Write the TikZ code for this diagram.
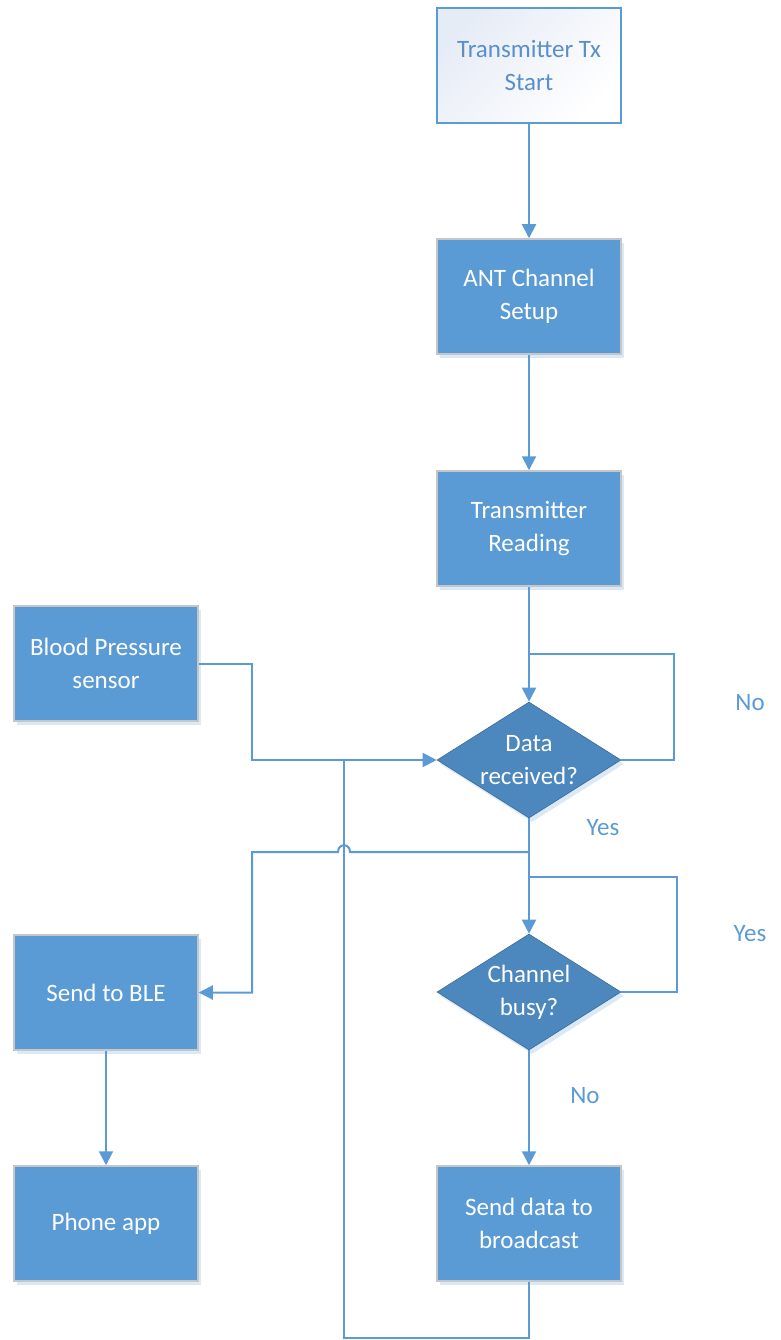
\documentclass[tikz,border=0pt]{standalone}
\usepackage{fontspec}
\setmainfont{Carlito}
\usetikzlibrary{shapes.geometric,arrows.meta,shadows}
\definecolor{lineblue}{HTML}{5B9BD5}
\definecolor{boxblue}{HTML}{5B9BD5}
\definecolor{diablue}{HTML}{4C87BD}
\definecolor{startborder}{HTML}{5B9BD5}
\definecolor{starttext}{HTML}{5A8FC8}
\definecolor{startfill}{HTML}{E6ECF6}
\definecolor{shadowblue}{HTML}{D2E2F3}
\tikzset{
  myshadow/.style={drop shadow={shadow xshift=3pt, shadow yshift=-4pt, fill=shadowblue, opacity=0.8}},
  stepbox/.style={rectangle, draw=gray!45, line width=1.5pt, fill=boxblue, text=white,
    minimum width=184pt, minimum height=115pt, align=center, inner sep=0pt,
    font=\fontsize{25}{33}\selectfont, myshadow},
  startbox/.style={rectangle, draw=startborder, line width=1.8pt, top color=startfill, bottom color=white,
    shading angle=45,
    text=starttext, minimum width=184pt, minimum height=115pt, align=center, inner sep=0pt,
    font=\fontsize{25}{33}\selectfont},
  decision/.style={diamond, aspect=1.586, draw=diablue!80!black, line width=0.6pt, fill=diablue, text=white,
    minimum width=184pt, minimum height=116pt, align=center, inner sep=0pt,
    font=\fontsize{25}{33}\selectfont, myshadow},
  conn/.style={draw=lineblue, line width=2pt},
  arr/.style={conn, -{Triangle[width=14pt,length=14pt]}},
  lbl/.style={text=lineblue, font=\fontsize{25}{30}\selectfont, inner sep=0pt}
}
\begin{document}
\begin{tikzpicture}[x=1pt,y=-1pt]
\path[use as bounding box] (0,0) rectangle (780,1340);
% nodes
\node[startbox] (start) at (529,65.5) {Transmitter Tx\\Start};
\node[stepbox] (ant) at (529,296.5) {ANT Channel\\Setup};
\node[stepbox] (read) at (529,528.5) {Transmitter\\Reading};
\node[stepbox] (bp) at (106,663.5) {Blood Pressure\\sensor};
\node[decision] (dr) at (529,760) {Data\\received?};
\node[decision] (cb) at (529,992) {Channel\\busy?};
\node[stepbox] (ble) at (106,992.5) {Send to BLE};
\node[stepbox] (phone) at (106,1223.5) {Phone app};
\node[stepbox] (sd) at (529,1223.5) {Send data to\\broadcast};
% labels
\node[lbl] (no1) at (750,703) {No};
\node[lbl] (yes1) at (603,828) {Yes};
\node[lbl] (yes2) at (750,934) {Yes};
\node[lbl] (no2) at (585,1096) {No};
% coordinates
\coordinate (c1) at (674,654);
\coordinate (j1) at (529,654);
\coordinate (bpc) at (252,760);
\coordinate (j2) at (529,852);
\coordinate (hopR) at (350,852);
\coordinate (hopL) at (338,852);
\coordinate (c3) at (252,852);
\coordinate (c4) at (677,877);
\coordinate (j3) at (529,877);
\coordinate (c5) at (344,1338);
\coordinate (j4) at (344,760);
% connectors
\draw[arr] (start) -- (ant);
\draw[arr] (ant) -- (read);
\draw[arr] (read.south) -- (dr.north);
\draw[conn] (dr.east) -| (c1) -- (j1);
\draw[arr] (bp.east) -| (bpc) -- (dr.west);
\draw[arr] (dr.south) -- (cb.north);
\draw[arr] (j2) -- (hopR) .. controls (350,843) and (338,843) .. (hopL) -- (c3) |- (ble.east);
\draw[conn] (cb.east) -| (c4) -- (j3);
\draw[arr] (cb.south) -- (sd.north);
\draw[conn] (sd.south) |- (c5) -- (j4);
\draw[arr] (ble) -- (phone);
\end{tikzpicture}
\end{document}
